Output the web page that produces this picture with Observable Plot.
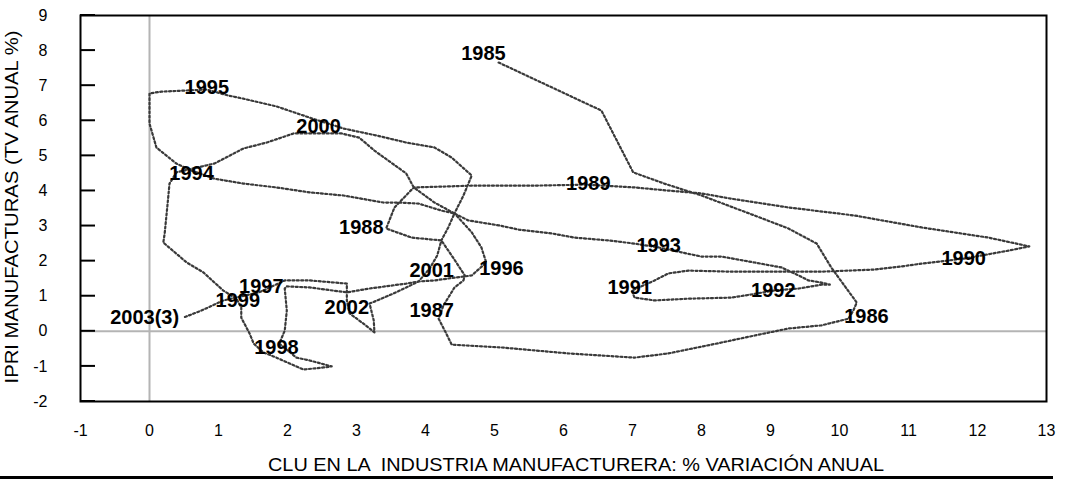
<!DOCTYPE html>
<html><head><meta charset="utf-8">
<script src="https://cdn.jsdelivr.net/npm/d3@7"></script>
<script src="https://cdn.jsdelivr.net/npm/@observablehq/plot@0.6"></script>
<style>body{margin:0;background:#fff;} svg{display:block}</style>
</head><body><div id="chart"></div>
<script>
// Path of the connected scatter (CLU % var. anual, IPRI % var. anual), 1985 -> 2003(3)
const pathX = [
  5.06,6.55,7.01,7.46,8.00,8.77,9.26,9.67,9.88,10.25,10.20,
  10.13,9.74,9.26,8.77,8.29,7.52,7.03,6.07,5.10,4.38,4.30,4.19,4.26,
  4.33,4.42,4.55,4.57,4.41,4.23,3.80,3.43,
  3.55,3.83,4.67,5.54,6.33,
  7.03,7.52,8.00,8.43,9.26,10.22,11.19,12.16,12.75,12.45,11.80,
  11.19,10.90,10.51,9.74,8.43,7.81,7.52,7.32,6.99,
  7.03,7.32,7.81,8.43,8.72,9.04,
  9.41,9.74,9.86,9.74,9.55,9.41,9.16,8.77,8.29,8.00,7.71,7.38,
  7.03,6.65,6.16,5.83,5.35,5.06,4.62,4.42,4.23,3.90,3.61,3.39,2.81,2.32,1.84,1.36,0.94,0.61,
  0.39,0.10,0.00,0.00,0.17,0.83,
  1.14,1.36,1.84,2.32,2.81,3.29,3.72,4.13,4.38,4.67,4.55,4.42,4.67,4.81,4.88,
  4.67,4.42,4.13,3.90,3.72,3.19,2.86,2.32,1.99,1.96,
  1.99,1.96,1.88,
  2.13,2.32,2.64,2.52,2.23,1.84,1.65,1.51,1.45,1.33,1.33,1.26,
  1.07,0.78,0.54,0.20,0.22,0.26,0.29,0.39,0.94,1.36,1.70,2.09,2.78,
  3.04,3.26,3.72,3.83,4.13,4.42,4.33,4.23,4.17,4.06,
  3.90,3.54,3.19,
  3.25,3.26,3.10,2.90,2.86,2.86,2.32,1.96,1.59,1.07,0.75,0.49
];
const pathY = [
  7.66,6.29,4.53,4.21,3.87,3.30,2.93,2.50,1.82,0.82,0.59,
  0.36,0.17,0.08,-0.12,-0.32,-0.63,-0.75,-0.63,-0.46,-0.38,-0.06,0.36,0.74,
  0.96,1.25,1.45,1.59,2.07,2.59,2.67,2.93,
  3.53,4.10,4.15,4.15,4.18,
  4.10,4.01,3.93,3.78,3.53,3.30,2.96,2.67,2.42,2.30,2.07,
  1.93,1.85,1.76,1.70,1.70,1.73,1.65,1.45,1.16,
  0.96,0.88,0.93,0.96,1.05,1.16,
  1.22,1.33,1.33,1.39,1.45,1.59,1.82,1.96,2.13,2.13,2.25,2.39,
  2.50,2.59,2.67,2.79,2.90,3.02,3.16,3.36,3.44,3.64,3.67,3.67,3.87,3.96,4.10,4.21,4.35,4.58,
  4.78,5.24,5.92,6.78,6.83,6.89,
  6.72,6.63,6.41,6.09,5.78,5.58,5.38,5.24,4.95,4.44,3.87,3.36,2.82,2.39,1.96,
  1.59,1.53,1.45,1.42,1.36,1.22,1.11,1.25,1.28,1.22,
  0.59,0.02,-0.35,
  -0.75,-0.83,-1.00,-1.03,-1.09,-0.75,-0.60,-0.35,-0.06,0.39,0.68,0.93,
  1.16,1.68,1.96,2.53,2.79,3.59,4.21,4.53,4.78,5.21,5.38,5.64,5.64,
  5.52,5.15,4.50,4.10,3.67,3.36,2.96,2.59,2.16,1.79,
  1.42,1.08,0.79,
  0.31,-0.03,0.22,0.51,0.88,1.36,1.45,1.45,1.11,0.88,0.59,0.39
];

// Year labels and where they sit (data units)
const labelText = ["1985","1986","1987","1988","1989","1990","1991","1992","1993","1994",
                   "1995","1996","1997","1998","1999","2000","2001","2002","2003(3)"];
const labelX = [4.84,10.39,4.09,3.07,6.36,11.80,6.96,9.04,7.38,0.61,0.83,5.10,1.62,1.84,1.28,2.45,4.09,2.86,-0.07];
const labelY = [7.91,0.42,0.59,2.96,4.21,2.07,1.25,1.16,2.44,4.50,6.95,1.79,1.28,-0.46,0.88,5.84,1.73,0.68,0.39];

const xTicks = [-1,0,1,2,3,4,5,6,7,8,9,10,11,12,13];
const yTicks = [-2,-1,0,1,2,3,4,5,6,7,8,9];

const xTitle = "CLU EN LA  INDUSTRIA MANUFACTURERA: % VARIACIÓN ANUAL";
const yTitle = "IPRI MANUFACTURAS (TV ANUAL %)";

const path = pathX.map((x, i) => ({x, y: pathY[i]}));
const labels = labelText.map((t, i) => ({t, x: labelX[i], y: labelY[i]}));

const W = 1070, H = 480, mL = 80, mR = 24, mT = 15, mB = 79;
const xMin = -1, xMax = 13, yMin = -2, yMax = 9;
const font = "'Liberation Sans', Arial, Helvetica, sans-serif";

const chart = Plot.plot({
  width: W, height: H,
  marginLeft: mL, marginRight: mR, marginTop: mT, marginBottom: mB,
  style: {fontFamily: font, background: "white", color: "black", overflow: "visible"},
  x: {domain: [xMin, xMax], axis: null},
  y: {domain: [yMin, yMax], axis: null},
  marks: [
    Plot.ruleX([0], {stroke: "#b4b4b4", strokeWidth: 2}),
    Plot.ruleY([0], {stroke: "#b4b4b4", strokeWidth: 2}),
    Plot.line(path, {x: "x", y: "y", stroke: "#3a3a3a", strokeWidth: 2.2, strokeDasharray: "2,2.4"}),
    Plot.text(labels, {x: "x", y: "y", text: "t", fontWeight: "bold", fontSize: 20, fill: "black"}),
    Plot.frame({stroke: "black", strokeWidth: 2}),
    // y tick labels
    Plot.text(yTicks, {x: xMin, y: d => d, text: d => String(d), textAnchor: "end", dx: -33, fontSize: 16, fill: "black"}),
    // x tick labels
    Plot.text(xTicks, {x: d => d, y: yMin, text: d => String(d), dy: 29, fontSize: 16, fill: "black"})
  ]
});

const svg = d3.select(chart);
const sx = chart.scale("x"), sy = chart.scale("y");
// inward y ticks (15 px), positioned through Plot's scales
const x0 = sx.apply(xMin);
svg.append("g").attr("stroke", "black").attr("stroke-width", 2)
  .selectAll("line").data(yTicks).join("line")
  .attr("x1", x0).attr("x2", x0 + 15)
  .attr("y1", d => sy.apply(d)).attr("y2", d => sy.apply(d));

svg.append("text")
  .attr("x", 576).attr("y", 465)
  .attr("text-anchor", "middle").attr("dominant-baseline", "central")
  .attr("font-size", 18).attr("font-family", font).attr("fill", "black")
  .attr("textLength", 616).attr("lengthAdjust", "spacingAndGlyphs")
  .text(xTitle);
svg.append("text")
  .attr("transform", "translate(12,207) rotate(-90)")
  .attr("text-anchor", "middle").attr("dominant-baseline", "central")
  .attr("font-size", 18).attr("font-family", font).attr("fill", "black")
  .attr("textLength", 353).attr("lengthAdjust", "spacingAndGlyphs")
  .text(yTitle);
svg.append("rect")
  .attr("x", 0).attr("y", 476).attr("width", 1053).attr("height", 3).attr("fill", "black");

document.getElementById("chart").appendChild(chart);
</script>
</body></html>
